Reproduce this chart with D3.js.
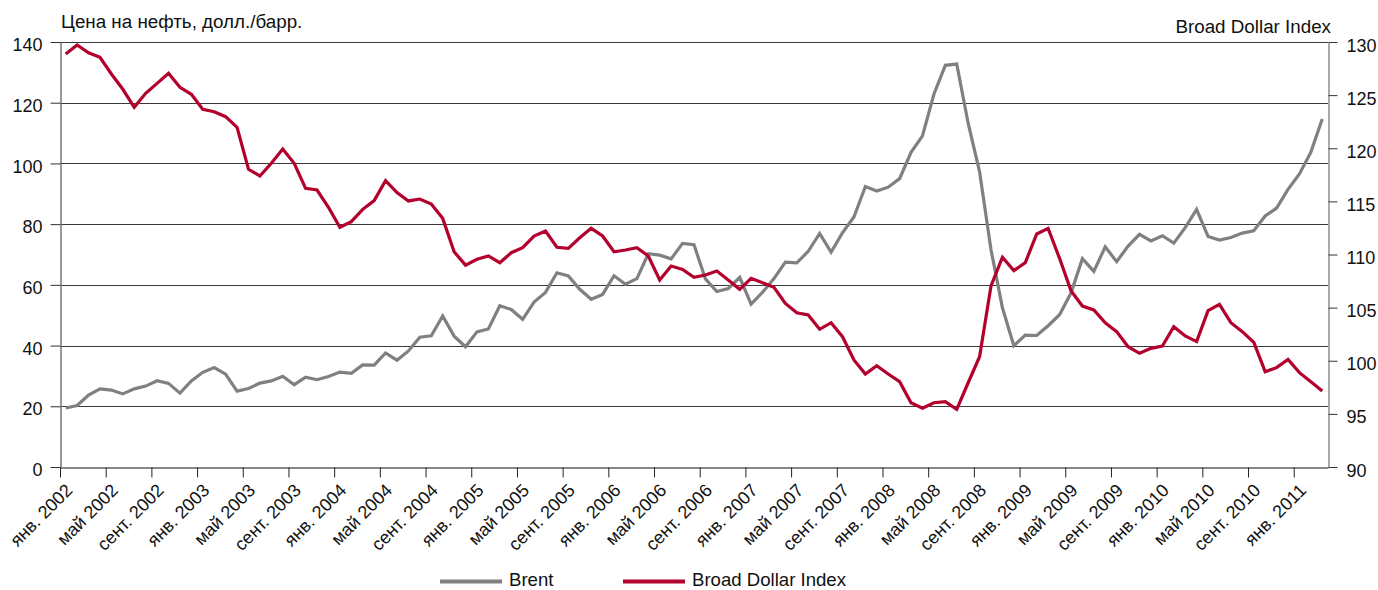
<!DOCTYPE html>
<html>
<head>
<meta charset="utf-8">
<script src="https://cdn.jsdelivr.net/npm/d3@7"></script>
<style>
  html, body { margin: 0; padding: 0; background: #fff; }
  svg { display: block; font-family: "Liberation Sans", Arial, Helvetica, sans-serif; }
</style>
</head>
<body>
<svg id="chart" width="1378" height="590"></svg>
<script>
// ---------------- DATA ----------------
const months = d3.timeMonth.range(new Date(2002, 0, 1), new Date(2011, 3, 1)); // Jan 2002 .. Mar 2011

const brent = [
  19.42, 20.28, 23.70, 25.73, 25.35, 24.08, 25.74, 26.65, 28.40, 27.54, 24.34, 28.33,
  31.18, 32.77, 30.61, 25.00, 25.86, 27.65, 28.35, 29.89, 27.11, 29.61, 28.75, 29.81,
  31.28, 30.86, 33.63, 33.59, 37.57, 35.18, 38.22, 42.74, 43.20, 49.78, 43.11, 39.60,
  44.51, 45.48, 53.10, 51.88, 48.65, 54.35, 57.52, 63.98, 62.91, 58.54, 55.24, 56.86,
  62.99, 60.21, 62.06, 70.26, 69.78, 68.56, 73.67, 73.23, 61.96, 57.81, 58.76, 62.47,
  53.68, 57.56, 62.05, 67.49, 67.21, 71.05, 76.93, 70.76, 77.17, 82.34, 92.41, 90.93,
  92.18, 94.99, 103.64, 109.07, 122.80, 132.32, 132.72, 113.24, 97.23, 71.58, 52.45, 39.95,
  43.44, 43.32, 46.54, 50.18, 57.30, 68.61, 64.44, 72.51, 67.65, 72.77, 76.66, 74.46,
  76.17, 73.75, 78.83, 84.82, 75.95, 74.76, 75.58, 77.04, 77.84, 82.67, 85.28, 91.45,
  96.52, 103.72, 114.64
];

const dollarIndex = [
  128.87, 129.72, 128.99, 128.56, 126.99, 125.55, 123.85, 125.17, 126.11, 127.05, 125.73, 125.08,
  123.66, 123.44, 122.97, 121.97, 118.02, 117.39, 118.58, 119.93, 118.58, 116.23, 116.07, 114.44,
  112.56, 113.09, 114.25, 115.07, 116.95, 115.82, 115.04, 115.22, 114.75, 113.40, 110.26, 109.00,
  109.55, 109.86, 109.23, 110.17, 110.64, 111.74, 112.21, 110.68, 110.58, 111.58, 112.46, 111.74,
  110.26, 110.42, 110.64, 109.86, 107.60, 108.92, 108.60, 107.85, 108.07, 108.45, 107.60, 106.72,
  107.76, 107.35, 106.91, 105.40, 104.52, 104.31, 102.96, 103.58, 102.26, 100.07, 98.75, 99.53,
  98.75, 98.03, 96.05, 95.53, 96.05, 96.15, 95.43, 97.93, 100.38, 107.04, 109.74, 108.48,
  109.23, 111.93, 112.46, 109.64, 106.60, 105.15, 104.78, 103.58, 102.74, 101.32, 100.70, 101.17,
  101.39, 103.20, 102.33, 101.80, 104.71, 105.31, 103.58, 102.74, 101.74, 98.97, 99.35, 100.13,
  98.88, 98.03, 97.15
];

const xTickLabels = [
  "янв. 2002", "май 2002", "сент. 2002",
  "янв. 2003", "май 2003", "сент. 2003",
  "янв. 2004", "май 2004", "сент. 2004",
  "янв. 2005", "май 2005", "сент. 2005",
  "янв. 2006", "май 2006", "сент. 2006",
  "янв. 2007", "май 2007", "сент. 2007",
  "янв. 2008", "май 2008", "сент. 2008",
  "янв. 2009", "май 2009", "сент. 2009",
  "янв. 2010", "май 2010", "сент. 2010",
  "янв. 2011"
];
const leftTicks = [0, 20, 40, 60, 80, 100, 120, 140];
const rightTicks = [90, 95, 100, 105, 110, 115, 120, 125, 130];

const leftTitle = "Цена на нефть, долл./барр.";
const rightTitle = "Broad Dollar Index";
const seriesNames = ["Brent", "Broad Dollar Index"];
const colors = { brent: "#808080", dollar: "#b4002d" };

// ---------------- LAYOUT ----------------
const svg = d3.select("#chart");
const L = 60, R = 1328, T = 42, B = 467;
const n = months.length;

const xBand = d3.scaleBand().domain(d3.range(n)).range([L, R]).paddingInner(0).paddingOuter(0);
const xLin = d3.scaleLinear().domain([0, n]).range([L, R]);
const yL = d3.scaleLinear().domain([0, 140]).range([B, T]);
const yR = d3.scaleLinear().domain([90, 130]).range([B, T]);
const cx = i => xBand(i) + xBand.bandwidth() / 2;

// gridlines
svg.append("g")
  .selectAll("line")
  .data(leftTicks.filter(d => d > 0))
  .join("line")
  .attr("x1", L).attr("x2", R)
  .attr("y1", d => Math.round(yL(d)) + 0.5).attr("y2", d => Math.round(yL(d)) + 0.5)
  .attr("stroke", "#3a3a3a").attr("stroke-width", 1);

// left axis
const gL = svg.append("g").attr("transform", `translate(${L + 0.5},0)`)
  .call(d3.axisLeft(yL).tickValues(leftTicks).tickSize(10).tickSizeOuter(0).tickPadding(8));
gL.select(".domain").attr("stroke", "#777").attr("stroke-width", 1.5);
gL.selectAll(".tick line").attr("stroke", "#333");
gL.selectAll(".tick text").attr("font-size", 18).attr("fill", "#111").attr("dy", "0.48em")
  .attr("x", -18).attr("font-family", "Liberation Sans, Arial, sans-serif");

// right axis
const gR = svg.append("g").attr("transform", `translate(${R + 0.5},0)`)
  .call(d3.axisRight(yR).tickValues(rightTicks).tickSize(9).tickSizeOuter(0).tickPadding(9));
gR.select(".domain").attr("stroke", "#555").attr("stroke-width", 1);
gR.selectAll(".tick line").attr("stroke", "#333");
gR.selectAll(".tick text").attr("font-size", 18).attr("fill", "#111").attr("dy", "0.5em")
  .attr("font-family", "Liberation Sans, Arial, sans-serif");

// bottom axis
const tickIdx = xTickLabels.map((d, k) => k * 4);
const gB = svg.append("g").attr("transform", `translate(0,${B + 0.5})`)
  .call(d3.axisBottom(xLin).tickValues(tickIdx).tickSize(10).tickSizeOuter(0)
    .tickFormat((d, k) => xTickLabels[k]));
gB.select(".domain").attr("stroke", "#111").attr("stroke-width", 1);
gB.selectAll(".tick line").attr("stroke", "#222");
gB.selectAll(".tick text")
  .attr("font-size", 18).attr("fill", "#111")
  .attr("font-family", "Liberation Sans, Arial, sans-serif")
  .attr("text-anchor", "end")
  .attr("dy", 0).attr("y", 0)
  .attr("transform", "translate(13,24) rotate(-45)");

// lines
const lineL = d3.line().x((d, i) => cx(i)).y(d => yL(d));
const lineR = d3.line().x((d, i) => cx(i)).y(d => yR(d));

svg.append("path").datum(brent)
  .attr("d", lineL).attr("fill", "none")
  .attr("stroke", colors.brent).attr("stroke-width", 3.2).attr("stroke-linejoin", "miter");

svg.append("path").datum(dollarIndex)
  .attr("d", lineR).attr("fill", "none")
  .attr("stroke", colors.dollar).attr("stroke-width", 3.2).attr("stroke-linejoin", "miter");

// titles
svg.append("text").attr("x", 61).attr("y", 28).attr("font-size", 18.8).attr("fill", "#111")
  .text(leftTitle);
svg.append("text").attr("x", 1331).attr("y", 33).attr("font-size", 18.8).attr("fill", "#111")
  .attr("text-anchor", "end").text(rightTitle);

// legend
const legend = [
  { name: seriesNames[0], color: colors.brent, x: 440 },
  { name: seriesNames[1], color: colors.dollar, x: 623 }
];
const lg = svg.append("g");
legend.forEach(d => {
  lg.append("line").attr("x1", d.x).attr("x2", d.x + 62)
    .attr("y1", 581.5).attr("y2", 581.5)
    .attr("stroke", d.color).attr("stroke-width", 4);
  lg.append("text").attr("x", d.x + 69).attr("y", 586).attr("font-size", 18.6).attr("fill", "#111")
    .text(d.name);
});
</script>
</body>
</html>
